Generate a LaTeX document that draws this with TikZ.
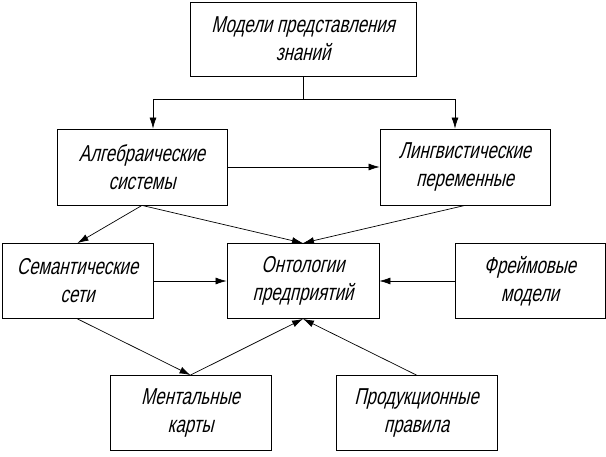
\documentclass[tikz,border=0pt]{standalone}
\usepackage{fontspec}
\newfontfamily\gostfont[FakeStretch=0.73,FakeSlant=0.24]{Liberation Sans}
\usetikzlibrary{arrows.meta}

\tikzset{
    blok/.style={draw, line width=0.8pt, rectangle, align=center, inner sep=0pt,
        font=\gostfont\fontsize{23}{28}\selectfont},
    strelka/.style={line width=0.7pt, -{Latex[length=11pt,width=7pt]}}
}

\begin{document}
\begin{tikzpicture}[x=1pt, y=-1pt]
        \useasboundingbox (0,0) rectangle (606,457);

        % Верхний блок
        \node[blok, minimum width=226pt, minimum height=74pt] (modeli) at (303,39) {Модели представления\\знаний};

        % Второй ряд
        \node[blok, minimum width=170pt, minimum height=76pt] (algebr) at (142,167) {Алгебраические\\системы};
        \node[blok, minimum width=170pt, minimum height=76pt] (lingv) at (465,167) {Лингвистические\\переменные};

        % Третий ряд
        \node[blok, minimum width=151pt, minimum height=75pt] (semant) at (77.5,281) {Семантические\\сети};
        \node[blok, minimum width=152pt, minimum height=75pt] (ontol) at (303,281) {Онтологии\\предприятий};
        \node[blok, minimum width=150pt, minimum height=75pt] (freim) at (530,281) {Фреймовые\\модели};

        % Нижний ряд
        \node[blok, minimum width=161pt, minimum height=75pt] (mental) at (190.5,413) {Ментальные\\карты};
        \node[blok, minimum width=161pt, minimum height=75pt] (produk) at (416.5,413) {Продукционные\\правила};

        % Разветвление от верхнего блока
        \coordinate (razv) at (303,99);
        \draw[line width=0.7pt] (modeli.south) -- (razv);
        \draw[strelka] (razv) -| ([xshift=11pt]algebr.north);
        \draw[strelka] (razv) -| ([xshift=-10pt]lingv.north);

        % Связи между блоками
        \draw[strelka] (algebr.east) -- (lingv.west);
        \draw[strelka] (algebr.south) -- (semant.north);
        \draw[strelka] (algebr.south) -- (ontol.north);
        \draw[strelka] (lingv.south) -- (ontol.north);
        \draw[strelka] (semant.east) -- (ontol.west);
        \draw[strelka] (freim.west) -- (ontol.east);
        \draw[strelka] (semant.south) -- (mental.north);
        \draw[strelka] (mental.north) -- (ontol.south);
        \draw[strelka] (produk.north) -- (ontol.south);
    \end{tikzpicture}
\end{document}
